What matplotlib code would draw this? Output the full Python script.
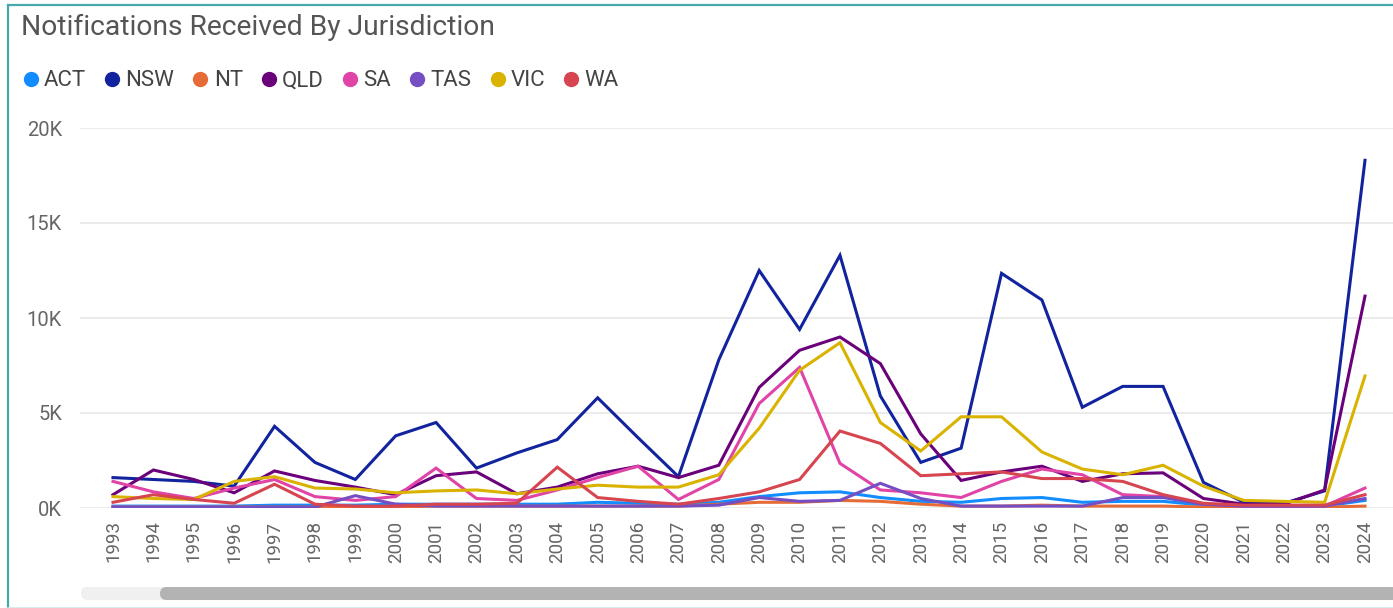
import numpy as np
import matplotlib
matplotlib.use("Agg")
import matplotlib.pyplot as plt
import matplotlib.patches as mpatches
from matplotlib.lines import Line2D

plt.rcParams['font.family'] = ['Roboto', 'DejaVu Sans']

# values in thousands
years = list(range(1993, 2025))
ACT = [0.1, 0.1, 0.1, 0.1, 0.15, 0.15, 0.15, 0.2, 0.2, 0.2, 0.2, 0.2, 0.3, 0.25, 0.2, 0.3,
       0.6, 0.8, 0.85, 0.55, 0.35, 0.3, 0.5, 0.55, 0.3, 0.35, 0.35, 0.15, 0.1, 0.1, 0.1, 0.4]
NSW = [1.6, 1.5, 1.4, 1.15, 4.3, 2.4, 1.5, 3.8, 4.5, 2.1, 2.9, 3.6, 5.8, 3.7, 1.65, 7.8,
       12.5, 9.4, 13.3, 5.9, 2.4, 3.15, 12.35, 10.95, 5.3, 6.4, 6.4, 1.35, 0.3, 0.25, 0.9, 18.3]
NT = [0.05, 0.05, 0.05, 0.05, 0.05, 0.05, 0.05, 0.05, 0.1, 0.1, 0.1, 0.1, 0.1, 0.1, 0.1, 0.2,
      0.3, 0.3, 0.4, 0.35, 0.2, 0.1, 0.1, 0.15, 0.1, 0.1, 0.1, 0.05, 0.05, 0.05, 0.05, 0.1]
QLD = [0.7, 2.0, 1.5, 0.8, 1.95, 1.45, 1.1, 0.7, 1.7, 1.9, 0.75, 1.1, 1.8, 2.2, 1.6, 2.25,
       6.35, 8.3, 9.0, 7.6, 3.9, 1.45, 1.9, 2.2, 1.4, 1.8, 1.85, 0.5, 0.2, 0.2, 0.95, 11.15]
SA = [1.4, 0.85, 0.5, 1.05, 1.5, 0.6, 0.4, 0.6, 2.1, 0.5, 0.4, 0.95, 1.6, 2.2, 0.45, 1.5,
      5.5, 7.4, 2.35, 0.95, 0.8, 0.55, 1.4, 2.05, 1.75, 0.7, 0.6, 0.2, 0.1, 0.1, 0.1, 1.05]
TAS = [0.05, 0.05, 0.05, 0.05, 0.05, 0.05, 0.65, 0.2, 0.1, 0.1, 0.1, 0.1, 0.1, 0.1, 0.1, 0.15,
       0.55, 0.35, 0.4, 1.3, 0.5, 0.1, 0.1, 0.1, 0.1, 0.55, 0.55, 0.2, 0.1, 0.1, 0.1, 0.5]
VIC = [0.6, 0.5, 0.45, 1.4, 1.65, 1.05, 1.0, 0.8, 0.9, 0.95, 0.75, 1.0, 1.2, 1.1, 1.1, 1.75,
       4.2, 7.25, 8.7, 4.5, 3.0, 4.8, 4.8, 2.95, 2.05, 1.75, 2.25, 1.15, 0.4, 0.35, 0.3, 6.95]
WA = [0.3, 0.7, 0.45, 0.25, 1.25, 0.2, 0.1, 0.1, 0.2, 0.2, 0.25, 2.15, 0.55, 0.35, 0.2, 0.5,
      0.85, 1.5, 4.05, 3.4, 1.7, 1.8, 1.9, 1.55, 1.55, 1.4, 0.7, 0.25, 0.15, 0.15, 0.15, 0.7]

names = ['ACT', 'NSW', 'NT', 'QLD', 'SA', 'TAS', 'VIC', 'WA']
series = [ACT, NSW, NT, QLD, SA, TAS, VIC, WA]
colors = ['#118DFF', '#12239E', '#E66C37', '#6B007B', '#E044A7', '#744EC2', '#D9B300', '#D64550']

W, H = 1393, 608
fig = plt.figure(figsize=(W / 100, H / 100), dpi=100)
fig.patch.set_facecolor('white')

ax = fig.add_axes([80 / W, 1 - 508 / H, 1 - 80 / W, (508 - 128) / H])
for name, vals, c in zip(names, series, colors):
    ax.plot(years, np.array(vals) * 1000, color=c, lw=2.2, label=name,
            solid_joinstyle='miter', zorder=3)

ax.set_xlim(1993 - 33 / 40.387, 2024 + 28 / 40.387)
ax.set_ylim(0, 20000)
ax.set_yticks([0, 5000, 10000, 15000, 20000])
ax.set_yticklabels(['0K', '5K', '10K', '15K', '20K'])
ax.set_xticks(years)
ax.set_xticklabels([str(y) for y in years], rotation=90, va='top', ha='center')
ax.tick_params(axis='y', length=0, pad=13, labelsize=14.5, labelcolor='#666666')
ax.tick_params(axis='x', length=0, pad=9, labelsize=13.5, labelcolor='#666666')
ax.grid(axis='y', color='#E9E9E9', lw=1.3)
ax.set_axisbelow(True)
for s in ax.spines.values():
    s.set_visible(False)

fig.text(21 / W, 1 - 27 / H, 'Notifications Received By Jurisdiction',
         fontsize=20.3, color='#555555', va='center', ha='left')

handles = [Line2D([], [], ls='none', marker='o', ms=10, color=c, mec=c) for c in colors]
fig.legend(handles, names, loc='center left', bbox_to_anchor=(23 / W, 1 - 81 / H),
           ncol=8, frameon=False, handlelength=0.7, handletextpad=0.25,
           columnspacing=0.82, borderpad=0, borderaxespad=0,
           prop={'size': 16}, labelcolor='#444444')

# frame
fig.add_artist(Line2D([8 / W, 8 / W], [0, 1 - 5 / H], color='#45A9AC', lw=1.6,
                      transform=fig.transFigure))
fig.add_artist(Line2D([8 / W, 1], [1 - 5 / H, 1 - 5 / H], color='#45A9AC', lw=1.6,
                      transform=fig.transFigure))
fig.add_artist(Line2D([8 / W, 1], [0.5 / H, 0.5 / H], color='#CFE9EA', lw=1.2,
                      transform=fig.transFigure))

# scrollbar
tr = fig.dpi_scale_trans
track = mpatches.FancyBboxPatch((81 / 100, (H - 600) / 100), 95 / 100, 13 / 100,
                                boxstyle='round,pad=0,rounding_size=0.065',
                                fc='#F0F0F0', ec='none', transform=tr)
thumb = mpatches.FancyBboxPatch((160 / 100, (H - 600) / 100), 1300 / 100, 13 / 100,
                                boxstyle='round,pad=0,rounding_size=0.065',
                                fc='#B3B3B3', ec='none', transform=tr)
fig.add_artist(track)
fig.add_artist(thumb)

fig.savefig('out.png', dpi=100)
